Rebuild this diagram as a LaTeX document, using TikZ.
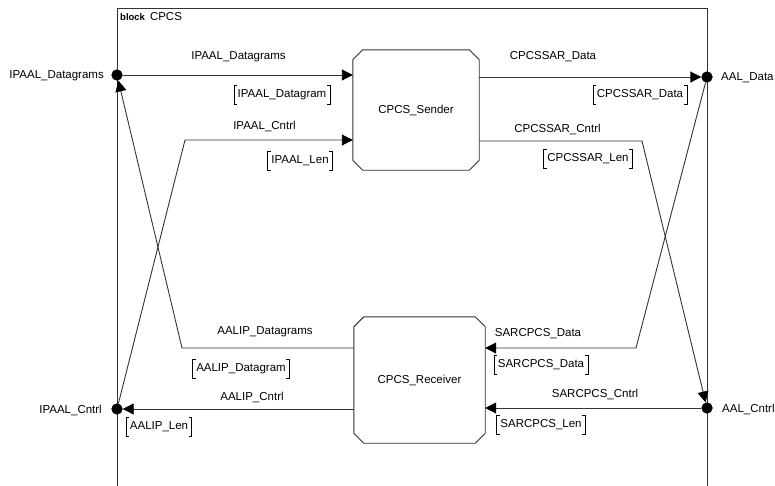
\documentclass[tikz,border=0pt]{standalone}
\usepackage{fontspec}
\setmainfont{Liberation Sans}
\usetikzlibrary{arrows.meta}
\newcommand{\chamferbox}[1]{%
  \draw[ln] ([xshift=10pt]#1.north west) -- ([xshift=-10pt]#1.north east) -- ([yshift=-10pt]#1.north east)
    -- ([yshift=10pt]#1.south east) -- ([xshift=-10pt]#1.south east) -- ([xshift=10pt]#1.south west)
    -- ([yshift=10pt]#1.south west) -- ([yshift=-10pt]#1.north west) -- cycle;}
\newcommand{\siglbl}[3]{%
  \node[sigtext] (#1) at (#2) {#3};
  \draw[brk] ([xshift=3pt]#1.north west) -- (#1.north west) -- (#1.south west) -- ([xshift=3pt]#1.south west);
  \draw[brk] ([xshift=-3pt]#1.north east) -- (#1.north east) -- (#1.south east) -- ([xshift=-3pt]#1.south east);}
\begin{document}
\begin{tikzpicture}[x=1pt,y=-1pt,
  every node/.style={font=\fontsize{11.5}{13}\selectfont, inner sep=0pt},
  ln/.style={draw=black!80, line width=0.9pt},
  arr/.style={ln, -{Triangle[length=11pt,width=11pt,color=black]}},
  port/.style={circle, fill=black, minimum size=11pt, inner sep=0pt},
  partbox/.style={rectangle, inner sep=0pt},
  sigtext/.style={inner xsep=3.5pt, minimum height=19pt},
  brk/.style={draw=black, line width=0.7pt}
]
\useasboundingbox (0,0) rectangle (775,485);
% frame
\draw[ln] (117,490) -- (117,8) -- (707,8) -- (707,490);
\node[anchor=west] (title) at (120,17) {{\fontsize{9.5}{11}\selectfont\bfseries block}\hspace{5pt}CPCS};

% parts
\node[partbox, minimum width=126pt, minimum height=120pt] (snd) at (416,110) {CPCS\_Sender};
\node[partbox, minimum width=131pt, minimum height=126pt] (rcv) at (419.5,380) {CPCS\_Receiver};
\chamferbox{snd}
\chamferbox{rcv}

% ports (coordinates for lines)
\coordinate (ipdc) at (117,75);
\coordinate (ipcc) at (117,409);
\coordinate (aldc) at (707,77);
\coordinate (alcc) at (707,408);
\node[port] (ipd) at (ipdc) {};
\node[port] (ipc) at (ipcc) {};
\node[port] (ald) at (aldc) {};
\node[port] (alc) at (alcc) {};

% bends
\coordinate (c1) at (185,140);
\coordinate (c2) at (182,348);
\coordinate (c3) at (642,141);
\coordinate (c4) at (636,348);

% connectors
\draw[arr] (ipd) -- (ipdc -| snd.west);
\draw[arr] (ipc) -- (c1) -- (c1 -| snd.west);
\draw[arr] (c2 -| rcv.west) -- (c2) -- (ipd);
\draw[arr] (ipcc -| rcv.west) -- (ipc);
\draw[arr] (aldc -| snd.east) -- (ald);
\draw[arr] (c3 -| snd.east) -- (c3) -- (alc);
\draw[arr] (ald) -- (c4) -- (c4 -| rcv.east);
\draw[arr] (alc) -- (alcc -| rcv.east);

% port dots redrawn on top
\fill (ipdc) circle (5.5pt);
\fill (ipcc) circle (5.5pt);
\fill (aldc) circle (5.5pt);
\fill (alcc) circle (5.5pt);

% port labels
\node[anchor=east] (lipd) at (104,76) {IPAAL\_Datagrams};
\node[anchor=east] (lipc) at (102,410) {IPAAL\_Cntrl};
\node[anchor=west] (lald) at (721,78) {AAL\_Data};
\node[anchor=west] (lalc) at (722,409) {AAL\_Cntrl};

% connector labels
\node (t1) at (238.5,57) {IPAAL\_Datagrams};
\node (t2) at (264.5,126) {IPAAL\_Cntrl};
\node (t3) at (553,57) {CPCSSAR\_Data};
\node (t4) at (557.5,129) {CPCSSAR\_Cntrl};
\node (t5) at (265,332) {AALIP\_Datagrams};
\node (t6) at (252,397) {AALIP\_Cntrl};
\node (t7) at (538,334) {SARCPCS\_Data};
\node (t8) at (595,394) {SARCPCS\_Cntrl};

% signal type labels
\siglbl{s1}{282,95}{IPAAL\_Datagram}
\siglbl{s2}{300,161}{IPAAL\_Len}
\siglbl{s3}{640,95}{CPCSSAR\_Data}
\siglbl{s4}{588,159}{CPCSSAR\_Len}
\siglbl{s5}{241,369}{AALIP\_Datagram}
\siglbl{s6}{159,427}{AALIP\_Len}
\siglbl{s7}{541,365}{SARCPCS\_Data}
\siglbl{s8}{541,425}{SARCPCS\_Len}
\end{tikzpicture}
\end{document}
